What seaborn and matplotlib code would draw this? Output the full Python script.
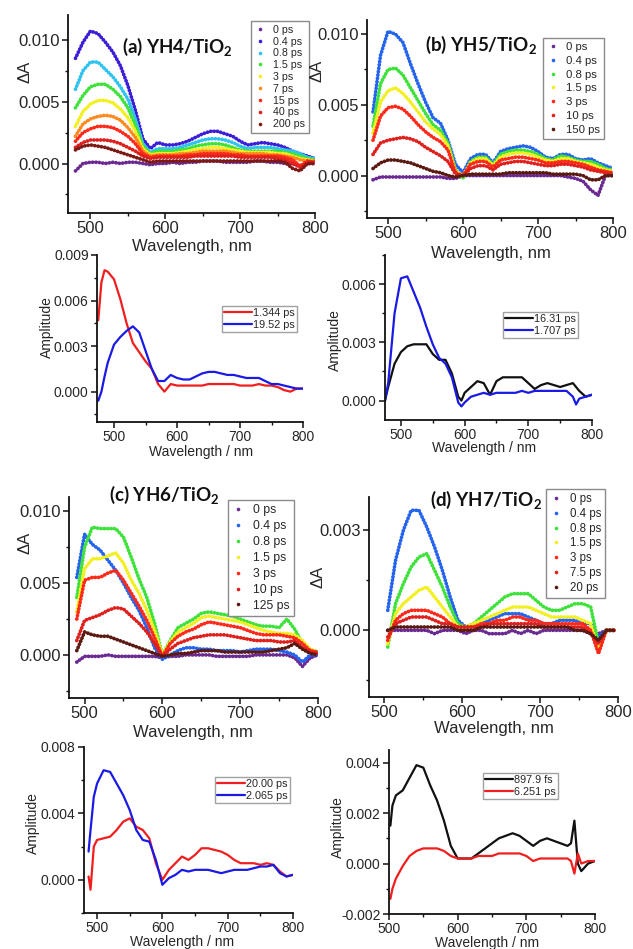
import numpy as np
import pandas as pd
import matplotlib
matplotlib.use("Agg")
import matplotlib.pyplot as plt
import seaborn as sns
from matplotlib.lines import Line2D
from matplotlib.ticker import MultipleLocator, FormatStrFormatter

# ---------------- data (values in units of 1e-4) ----------------
# (a) YH4/TiO2 transient spectra
a_wl = list(range(480, 801, 10))
a_labels = ["0 ps", "0.4 ps", "0.8 ps", "1.5 ps", "3 ps", "7 ps", "15 ps", "40 ps", "200 ps"]
a_colors = ["#6b2a92", "#3b1fd8", "#2fc3ef", "#3ee23a", "#f2ef22", "#ff8a1e", "#ff2a1a", "#e0201c", "#7d1a16"]
a_0 = [-6, 0, 1, 1, 0, 1, 0, 1, 1, 0, -1, 0, 0, 1, 0, 1, 1, 2, 2, 2, 1, 1, 1, 1, 2, 2, 1, 1, 0, 0, -2, 0, 0]
a_04 = [85, 98, 107, 105, 98, 90, 79, 63, 43, 20, 12, 17, 15, 15, 16, 18, 21, 24, 26, 26, 24, 22, 18, 15, 16, 17, 16, 15, 13, 10, 8, 6, 4]
a_08 = [60, 75, 82, 82, 76, 70, 62, 52, 36, 16, 9, 12, 12, 12, 13, 15, 17, 19, 20, 20, 19, 17, 14, 12, 13, 13, 13, 12, 11, 10, 8, 5, 4]
a_15 = [45, 55, 62, 64, 64, 60, 54, 45, 31, 14, 8, 10, 10, 10, 11, 12, 14, 15, 16, 16, 15, 13, 11, 10, 10, 10, 10, 10, 9, 8, 6, 4, 3]
a_3 = [30, 42, 48, 51, 51, 49, 44, 37, 26, 12, 7, 8, 8, 8, 9, 10, 11, 12, 13, 13, 12, 11, 10, 9, 9, 9, 9, 8, 8, 6, 4, 3, 2]
a_7 = [22, 32, 36, 38, 39, 38, 35, 29, 21, 10, 6, 7, 7, 7, 8, 8, 9, 10, 10, 10, 10, 9, 8, 8, 8, 8, 7, 7, 6, 5, 3, 2, 2]
a_15ps = [18, 25, 28, 30, 30, 29, 26, 22, 16, 8, 5, 6, 6, 6, 6, 7, 7, 8, 8, 8, 8, 7, 7, 6, 6, 6, 6, 6, 5, 3, -2, 2, 1]
a_40 = [13, 17, 19, 19, 19, 18, 16, 13, 10, 6, 4, 5, 5, 5, 5, 5, 6, 6, 6, 6, 6, 6, 5, 5, 5, 5, 5, 4, 3, 0, -3, 1, 1]
a_200 = [11, 14, 15, 14, 13, 11, 9, 7, 5, 3, 1, 2, 2, 2, 2, 2, 2, 2, 2, 2, 2, 2, 2, 2, 2, 2, 2, 2, 1, -4, -6, 0, 0]

# (b) YH5/TiO2 transient spectra
b_wl = list(range(480, 801, 10))
b_labels = ["0 ps", "0.4 ps", "0.8 ps", "1.5 ps", "3 ps", "10 ps", "150 ps"]
b_colors = ["#6b2a92", "#2464ee", "#3ee23a", "#f2ef22", "#ff2a1a", "#e0201c", "#5a1a12"]
b_0 = [-3, -1, -1, -1, -1, -1, -1, -1, -1, -1, -2, -2, 0, 0, 0, 0, 0, 0, 0, 0, 0, 0, 0, 0, 0, 0, -1, -2, -4, -10, -14, 0, 0]
b_04 = [45, 85, 102, 100, 94, 79, 65, 52, 41, 37, 25, 8, 2, 12, 15, 15, 9, 17, 19, 20, 21, 20, 17, 13, 12, 15, 15, 12, 11, 12, 9, 7, 5]
b_08 = [35, 65, 75, 76, 71, 62, 53, 44, 36, 32, 23, 4, -2, 10, 13, 13, 8, 15, 17, 18, 18, 17, 15, 12, 11, 14, 13, 11, 10, 10, 8, 5, 4]
b_15 = [30, 52, 60, 62, 58, 52, 45, 38, 33, 29, 21, 3, 0, 9, 12, 12, 7, 13, 15, 16, 16, 15, 13, 11, 10, 12, 12, 10, 9, 8, 6, 4, 3]
b_3 = [25, 42, 48, 49, 47, 42, 36, 31, 27, 24, 18, 2, 0, 8, 10, 10, 6, 11, 12, 13, 13, 12, 11, 9, 9, 10, 10, 9, 8, 6, 4, 3, 2]
b_10 = [15, 23, 25, 26, 27, 26, 24, 20, 17, 14, 10, 1, 0, 5, 7, 7, 4, 8, 9, 10, 10, 9, 8, 7, 7, 8, 8, 7, 6, 4, 3, 2, 1]
b_150 = [5, 9, 11, 11, 10, 9, 7, 5, 3, 2, 0, -1, 0, 1, 1, 1, 1, 1, 2, 2, 2, 2, 2, 2, 1, 1, 1, 1, 0, -3, -3, 0, 0]

# (c) YH6/TiO2 transient spectra
c_wl = list(range(490, 801, 10))
c_labels = ["0 ps", "0.4 ps", "0.8 ps", "1.5 ps", "3 ps", "10 ps", "125 ps"]
c_colors = b_colors
c_0 = [-5, -1, -1, -1, 0, -1, -1, -1, -1, -1, -1, -2, -1, -1, 0, 0, 0, 0, -1, -1, -1, -1, -1, 0, 0, 0, 0, 0, -2, -8, -2, 0]
c_04 = [54, 84, 77, 73, 66, 59, 50, 40, 31, 19, 5, -3, 0, 3, 5, 5, 4, 4, 3, 3, 3, 2, 3, 4, 4, 4, 3, 2, 0, -5, 0, 0]
c_08 = [40, 75, 89, 88, 88, 88, 82, 68, 53, 40, 22, 0, 10, 19, 22, 25, 29, 30, 29, 28, 27, 25, 23, 21, 20, 20, 19, 25, 18, 8, 3, 2]
c_15 = [30, 60, 67, 67, 69, 71, 64, 52, 43, 31, 17, 0, 9, 16, 19, 22, 26, 27, 26, 25, 24, 23, 21, 19, 17, 16, 15, 15, 14, 10, 4, 2]
c_3 = [25, 52, 54, 54, 57, 59, 52, 43, 34, 24, 12, -1, 8, 13, 16, 18, 21, 23, 22, 21, 20, 19, 17, 15, 14, 14, 14, 13, 12, 8, 3, 2]
c_10 = [10, 24, 26, 28, 31, 33, 32, 27, 22, 16, 8, -1, 4, 8, 10, 12, 13, 14, 14, 14, 13, 12, 11, 10, 10, 10, 9, 9, 10, 5, 2, 1]
c_125 = [3, 16, 14, 13, 13, 11, 9, 7, 5, 3, 1, -1, 0, 1, 1, 2, 3, 3, 3, 2, 2, 2, 2, 2, 2, 3, 4, 5, 8, 4, 1, 0]

# (d) YH7/TiO2 transient spectra
d_wl = list(range(505, 796, 10))
d_labels = ["0 ps", "0.4 ps", "0.8 ps", "1.5 ps", "3 ps", "7.5 ps", "20 ps"]
d_colors = b_colors
d_0 = [0, 0, 0, 0, 0, 0, -1, 0, 0, 0, -1, 0, 0, -1, -1, -1, 0, -1, 0, -1, 0, 0, 0, 0, 0, 0, -1, -1, 0, 0]
d_04 = [6, 21, 30, 36, 36, 31, 25, 18, 10, 3, 1, 1, 2, 3, 4, 5, 5, 5, 4, 3, 2, 2, 3, 3, 3, 2, 2, -2, 0, 0]
d_08 = [-5, 8, 14, 19, 22, 23, 18, 13, 7, 2, 1, 2, 4, 6, 8, 10, 11, 11, 11, 9, 7, 6, 6, 7, 8, 8, 7, -4, 0, 0]
d_15 = [-4, 5, 8, 10, 12, 13, 10, 7, 4, 1, 1, 2, 3, 4, 5, 6, 7, 7, 7, 6, 5, 4, 4, 4, 4, 3, 2, -6, 0, 0]
d_3 = [-3, 3, 5, 6, 6, 6, 5, 4, 2, 1, 1, 1, 2, 2, 3, 3, 4, 4, 3, 3, 2, 2, 2, 2, 2, 2, 0, -7, 0, 0]
d_75 = [-2, 2, 3, 4, 4, 4, 3, 2, 2, 1, 1, 1, 1, 2, 2, 2, 2, 2, 2, 2, 1, 1, 1, 1, 1, 1, -1, -4, 0, 0]
d_20 = [0, 1, 1, 1, 1, 1, 1, 1, 1, 0, 0, 0, 1, 1, 1, 1, 1, 1, 1, 1, 1, 1, 1, 1, 0, 0, -1, -3, 0, 0]

# decay-associated spectra
ad_wl = [475, 480, 485, 490, 500, 510, 520, 530, 540, 550, 560, 570, 580, 590, 600, 610, 620, 630, 640, 650,
         660, 670, 680, 690, 700, 710, 720, 730, 740, 750, 760, 770, 780, 790, 800]
ad_labels = ["1.344 ps", "19.52 ps"]
ad_colors = ["#f01e1e", "#1a1ae6"]
ad_1 = [47, 72, 80, 79, 74, 61, 45, 32, 26, 20, 15, 5, 0, 5, 4, 4, 4, 4, 4, 5, 5, 5, 5, 5, 4, 4, 4, 5, 4, 4, 3, 1, 0, 2, 2]
ad_2 = [-6, 0, 10, 19, 31, 36, 40, 43, 39, 27, 15, 7, 7, 11, 9, 8, 8, 10, 12, 13, 13, 12, 11, 11, 10, 9, 9, 9, 7, 5, 5, 4, 3, 2, 2]

bd_wl = [475, 480, 490, 500, 510, 520, 530, 540, 550, 560, 570, 580, 590, 595, 600, 610, 620, 630, 640, 650,
         660, 670, 680, 690, 700, 710, 720, 730, 740, 750, 760, 770, 775, 780, 790, 800]
bd_labels = ["16.31 ps", "1.707 ps"]
bd_colors = ["#111111", "#1a1ae6"]
bd_1 = [0, 7, 19, 25, 28, 29, 29, 29, 24, 21, 21, 14, 2, 0, 4, 7, 10, 9, 3, 10, 12, 12, 12, 12, 9, 6, 8, 9, 8, 7, 8, 9, 7, 5, 2, 3]
bd_2 = [0, 9, 45, 63, 64, 56, 48, 38, 29, 22, 19, 12, -1, -3, -1, 2, 3, 4, 3, 4, 4, 4, 4, 5, 4, 5, 5, 5, 5, 5, 5, 2, -2, 1, 2, 3]

cd_wl = [487, 490, 495, 500, 510, 520, 530, 540, 550, 560, 570, 580, 590, 600, 610, 620, 630, 640, 650, 660,
         670, 680, 690, 700, 710, 720, 730, 740, 750, 760, 770, 780, 790, 800]
cd_labels = ["20.00 ps", "2.065 ps"]
cd_colors = ["#f01e1e", "#1a1ae6"]
cd_1 = [2, -6, 20, 24, 25, 26, 30, 35, 37, 32, 30, 25, 10, 0, 6, 10, 14, 12, 15, 19, 19, 18, 17, 15, 12, 10, 10, 10, 9, 10, 9, 5, 2, 3]
cd_2 = [17, 30, 50, 58, 66, 65, 58, 51, 42, 30, 24, 23, 12, -3, 1, 3, 6, 5, 6, 6, 6, 5, 4, 5, 6, 6, 6, 7, 8, 8, 9, 4, 2, 3]

dd_wl = [502, 505, 510, 520, 530, 540, 550, 560, 570, 580, 590, 600, 610, 620, 630, 640, 650, 660, 670, 680,
         690, 700, 710, 720, 730, 740, 750, 760, 765, 770, 775, 780, 790, 800]
dd_labels = ["897.9 fs", "6.251 ps"]
dd_colors = ["#111111", "#f01e1e"]
dd_1 = [15, 23, 27, 29, 34, 39, 38, 31, 25, 17, 7, 2, 2, 2, 4, 6, 8, 10, 11, 12, 11, 9, 7, 9, 10, 9, 8, 7, 8, 17, 0, -3, 0, 1]
dd_2 = [-14, -10, -6, -1, 3, 5, 6, 6, 6, 5, 3, 2, 2, 2, 3, 3, 3, 4, 4, 4, 4, 3, 1, 2, 2, 2, 2, 2, 1, -4, 4, 0, 1, 1]

# ---------------- style ----------------
sns.set_theme(style="ticks")
plt.rcParams['font.family'] = ['Liberation Sans', 'DejaVu Sans']
plt.rcParams['mathtext.fontset'] = 'custom'
plt.rcParams['mathtext.rm'] = 'Lato:bold'
plt.rcParams['mathtext.bf'] = 'Lato:bold'
TXT = "#262626"

W, H = 633, 949
fig = plt.figure(figsize=(W / 100, H / 100), dpi=100)
fig.patch.set_facecolor('white')


def fx(px):
    return px / W


def fy(py):
    return 1 - py / H


def make_axes(l, t, r, b):
    ax = fig.add_axes([fx(l), fy(b), fx(r) - fx(l), (b - t) / H])
    ax.patch.set_alpha(0)
    return ax


def style(ax, xlim, ylim, ymaj, ymin, fs):
    ax.set_xlim(*xlim)
    ax.set_ylim(*ylim)
    ax.xaxis.set_major_locator(MultipleLocator(100))
    ax.xaxis.set_minor_locator(MultipleLocator(50))
    ax.yaxis.set_major_locator(MultipleLocator(ymaj))
    ax.yaxis.set_minor_locator(MultipleLocator(ymin))
    ax.yaxis.set_major_formatter(FormatStrFormatter('%.3f'))
    for s in ['top', 'right']:
        ax.spines[s].set_visible(False)
    for s in ['left', 'bottom']:
        ax.spines[s].set_linewidth(1.3)
        ax.spines[s].set_color('#111111')
    ax.tick_params(which='major', direction='out', length=4, width=1.1, labelsize=fs,
                   colors='#111111', labelcolor=TXT, pad=2)
    ax.tick_params(which='minor', direction='out', length=2.5, width=1.0, colors='#111111')


def labels(ax, xl, xpos, yl, ypos, fs):
    ax.set_xlabel(xl, fontsize=fs, color=TXT)
    ax.set_ylabel(yl, fontsize=fs, color=TXT)
    ax.xaxis.set_label_coords(fx(xpos[0]), fy(xpos[1]), transform=fig.transFigure)
    ax.yaxis.set_label_coords(fx(ypos[0]), fy(ypos[1]), transform=fig.transFigure)
    ax.xaxis.label.set_va('center')
    ax.yaxis.label.set_va('center')
    ax.yaxis.label.set_rotation_mode('anchor')


def spectra(ax, wl, series, labs, cols):
    frames = [pd.DataFrame({'wl': wl, 'dA': np.array(v) * 1e-4, 'delay': lab}) for v, lab in zip(series, labs)]
    df = pd.concat(frames, ignore_index=True)
    sns.lineplot(data=df, x='wl', y='dA', hue='delay', hue_order=labs, palette=cols,
                 estimator=None, sort=False, legend=False, ax=ax,
                 linewidth=2.7, linestyle=(0, (0.05, 0.85)), dash_capstyle='round')


def das(ax, wl, series, labs, cols):
    frames = [pd.DataFrame({'wl': wl, 'amp': np.array(v) * 1e-4, 'comp': lab}) for v, lab in zip(series, labs)]
    df = pd.concat(frames, ignore_index=True)
    sns.lineplot(data=df, x='wl', y='amp', hue='comp', hue_order=labs, palette=cols,
                 estimator=None, sort=False, legend=False, ax=ax, linewidth=1.6)


def dot_legend(ax, labs, cols, x, y, fs, spacing):
    hs = [Line2D([], [], ls='none', marker='o', markersize=2.6, color=c, markeredgewidth=0) for c in cols]
    leg = ax.legend(hs, labs, loc='upper left', bbox_to_anchor=(fx(x), fy(y)), bbox_transform=fig.transFigure,
                    fontsize=fs, frameon=True, fancybox=False, borderaxespad=0, borderpad=0.35,
                    handlelength=1.0, handletextpad=0.7, labelspacing=spacing, labelcolor=TXT)
    leg.get_frame().set_edgecolor('#8a8a8a')
    leg.get_frame().set_linewidth(1.0)
    leg.get_frame().set_alpha(1)


def line_legend(ax, labs, cols, x, y, fs):
    hs = [Line2D([], [], color=c, lw=1.6) for c in cols]
    leg = ax.legend(hs, labs, loc='upper left', bbox_to_anchor=(fx(x), fy(y)), bbox_transform=fig.transFigure,
                    fontsize=fs, frameon=True, fancybox=False, borderaxespad=0, borderpad=0.2,
                    handlelength=2.6, handletextpad=0.1, labelspacing=0.15, labelcolor=TXT)
    leg.get_frame().set_edgecolor('#8a8a8a')
    leg.get_frame().set_linewidth(1.0)


TFS = 13.5   # title font size
SFS = 12     # spectra tick/label font size
DFS = 10     # DAS font size

# ---- (a) spectra ----
ax = make_axes(68, 15, 315, 213)
spectra(ax, a_wl, [a_0, a_04, a_08, a_15, a_3, a_7, a_15ps, a_40, a_200], a_labels, a_colors)
style(ax, (470, 800), (-0.004, 0.012), 0.005, 0.0025, SFS)
labels(ax, "Wavelength, nm", (192, 246), "ΔA", (25, 72), SFS)
dot_legend(ax, a_labels, a_colors, 251, 21, 7.7, 0.17)
ax.text(fx(177), fy(47), "(a) YH4/TiO$_2$", transform=fig.transFigure, ha='center', va='center',
        fontsize=TFS, fontweight='bold', family='Lato', color='#111111')

# ---- (b) spectra ----
ax = make_axes(367, 20, 613, 218)
spectra(ax, b_wl, [b_0, b_04, b_08, b_15, b_3, b_10, b_150], b_labels, b_colors)
style(ax, (472, 800), (-0.003, 0.011), 0.005, 0.0025, SFS)
labels(ax, "Wavelength, nm", (491, 253), "ΔA", (317, 71), SFS)
dot_legend(ax, b_labels, b_colors, 543, 38, 8.2, 0.33)
ax.text(fx(481), fy(45), "(b) YH5/TiO$_2$", transform=fig.transFigure, ha='center', va='center',
        fontsize=TFS, fontweight='bold', family='Lato', color='#111111')

# ---- (a) DAS ----
ax = make_axes(97, 255, 303, 422)
das(ax, ad_wl, [ad_1, ad_2], ad_labels, ad_colors)
style(ax, (473, 800), (-0.002, 0.009), 0.003, 0.0015, DFS)
labels(ax, "Wavelength / nm", (201, 452), "Amplitude", (47, 327), DFS)
line_legend(ax, ad_labels, ad_colors, 222, 306, 7.8)

# ---- (b) DAS ----
ax = make_axes(385, 255, 592, 420)
das(ax, bd_wl, [bd_1, bd_2], bd_labels, bd_colors)
style(ax, (475, 800), (-0.001, 0.0075), 0.003, 0.0015, DFS)
labels(ax, "Wavelength / nm", (484, 448), "Amplitude", (335, 340), DFS)
line_legend(ax, bd_labels, bd_colors, 503, 312, 7.8)

# ---- (c) spectra ----
ax = make_axes(69, 497, 318, 698)
spectra(ax, c_wl, [c_0, c_04, c_08, c_15, c_3, c_10, c_125], c_labels, c_colors)
style(ax, (480, 800), (-0.003, 0.011), 0.005, 0.0025, SFS)
labels(ax, "Wavelength, nm", (193, 733), "ΔA", (25, 543), SFS)
dot_legend(ax, c_labels, c_colors, 228, 500, 8.8, 0.32)
ax.text(fx(164), fy(495), "(c) YH6/TiO$_2$", transform=fig.transFigure, ha='center', va='center',
        fontsize=TFS, fontweight='bold', family='Lato', color='#111111')

# ---- (d) spectra ----
ax = make_axes(369, 497, 618, 697)
spectra(ax, d_wl, [d_0, d_04, d_08, d_15, d_3, d_75, d_20], d_labels, d_colors)
style(ax, (481, 800), (-0.002, 0.004), 0.003, 0.0015, SFS)
labels(ax, "Wavelength, nm", (494, 728), "ΔA", (318, 577), SFS)
dot_legend(ax, d_labels, d_colors, 546, 489, 8.3, 0.24)
ax.text(fx(486), fy(500), "(d) YH7/TiO$_2$", transform=fig.transFigure, ha='center', va='center',
        fontsize=TFS, fontweight='bold', family='Lato', color='#111111')

# ---- (c) DAS ----
ax = make_axes(84, 747, 293, 913)
das(ax, cd_wl, [cd_1, cd_2], cd_labels, cd_colors)
style(ax, (480, 800), (-0.002, 0.008), 0.004, 0.002, DFS)
labels(ax, "Wavelength / nm", (182, 942), "Amplitude", (33, 823), DFS)
line_legend(ax, cd_labels, cd_colors, 215, 777, 7.8)

# ---- (d) DAS ----
ax = make_axes(389, 750, 595, 914)
das(ax, dd_wl, [dd_1, dd_2], dd_labels, dd_colors)
style(ax, (500, 800), (-0.002, 0.0045), 0.002, 0.001, DFS)
labels(ax, "Wavelength / nm", (487, 943), "Amplitude", (338, 827), DFS)
line_legend(ax, dd_labels, dd_colors, 483, 773, 7.8)

fig.savefig("out.png", dpi=100, facecolor='white')
